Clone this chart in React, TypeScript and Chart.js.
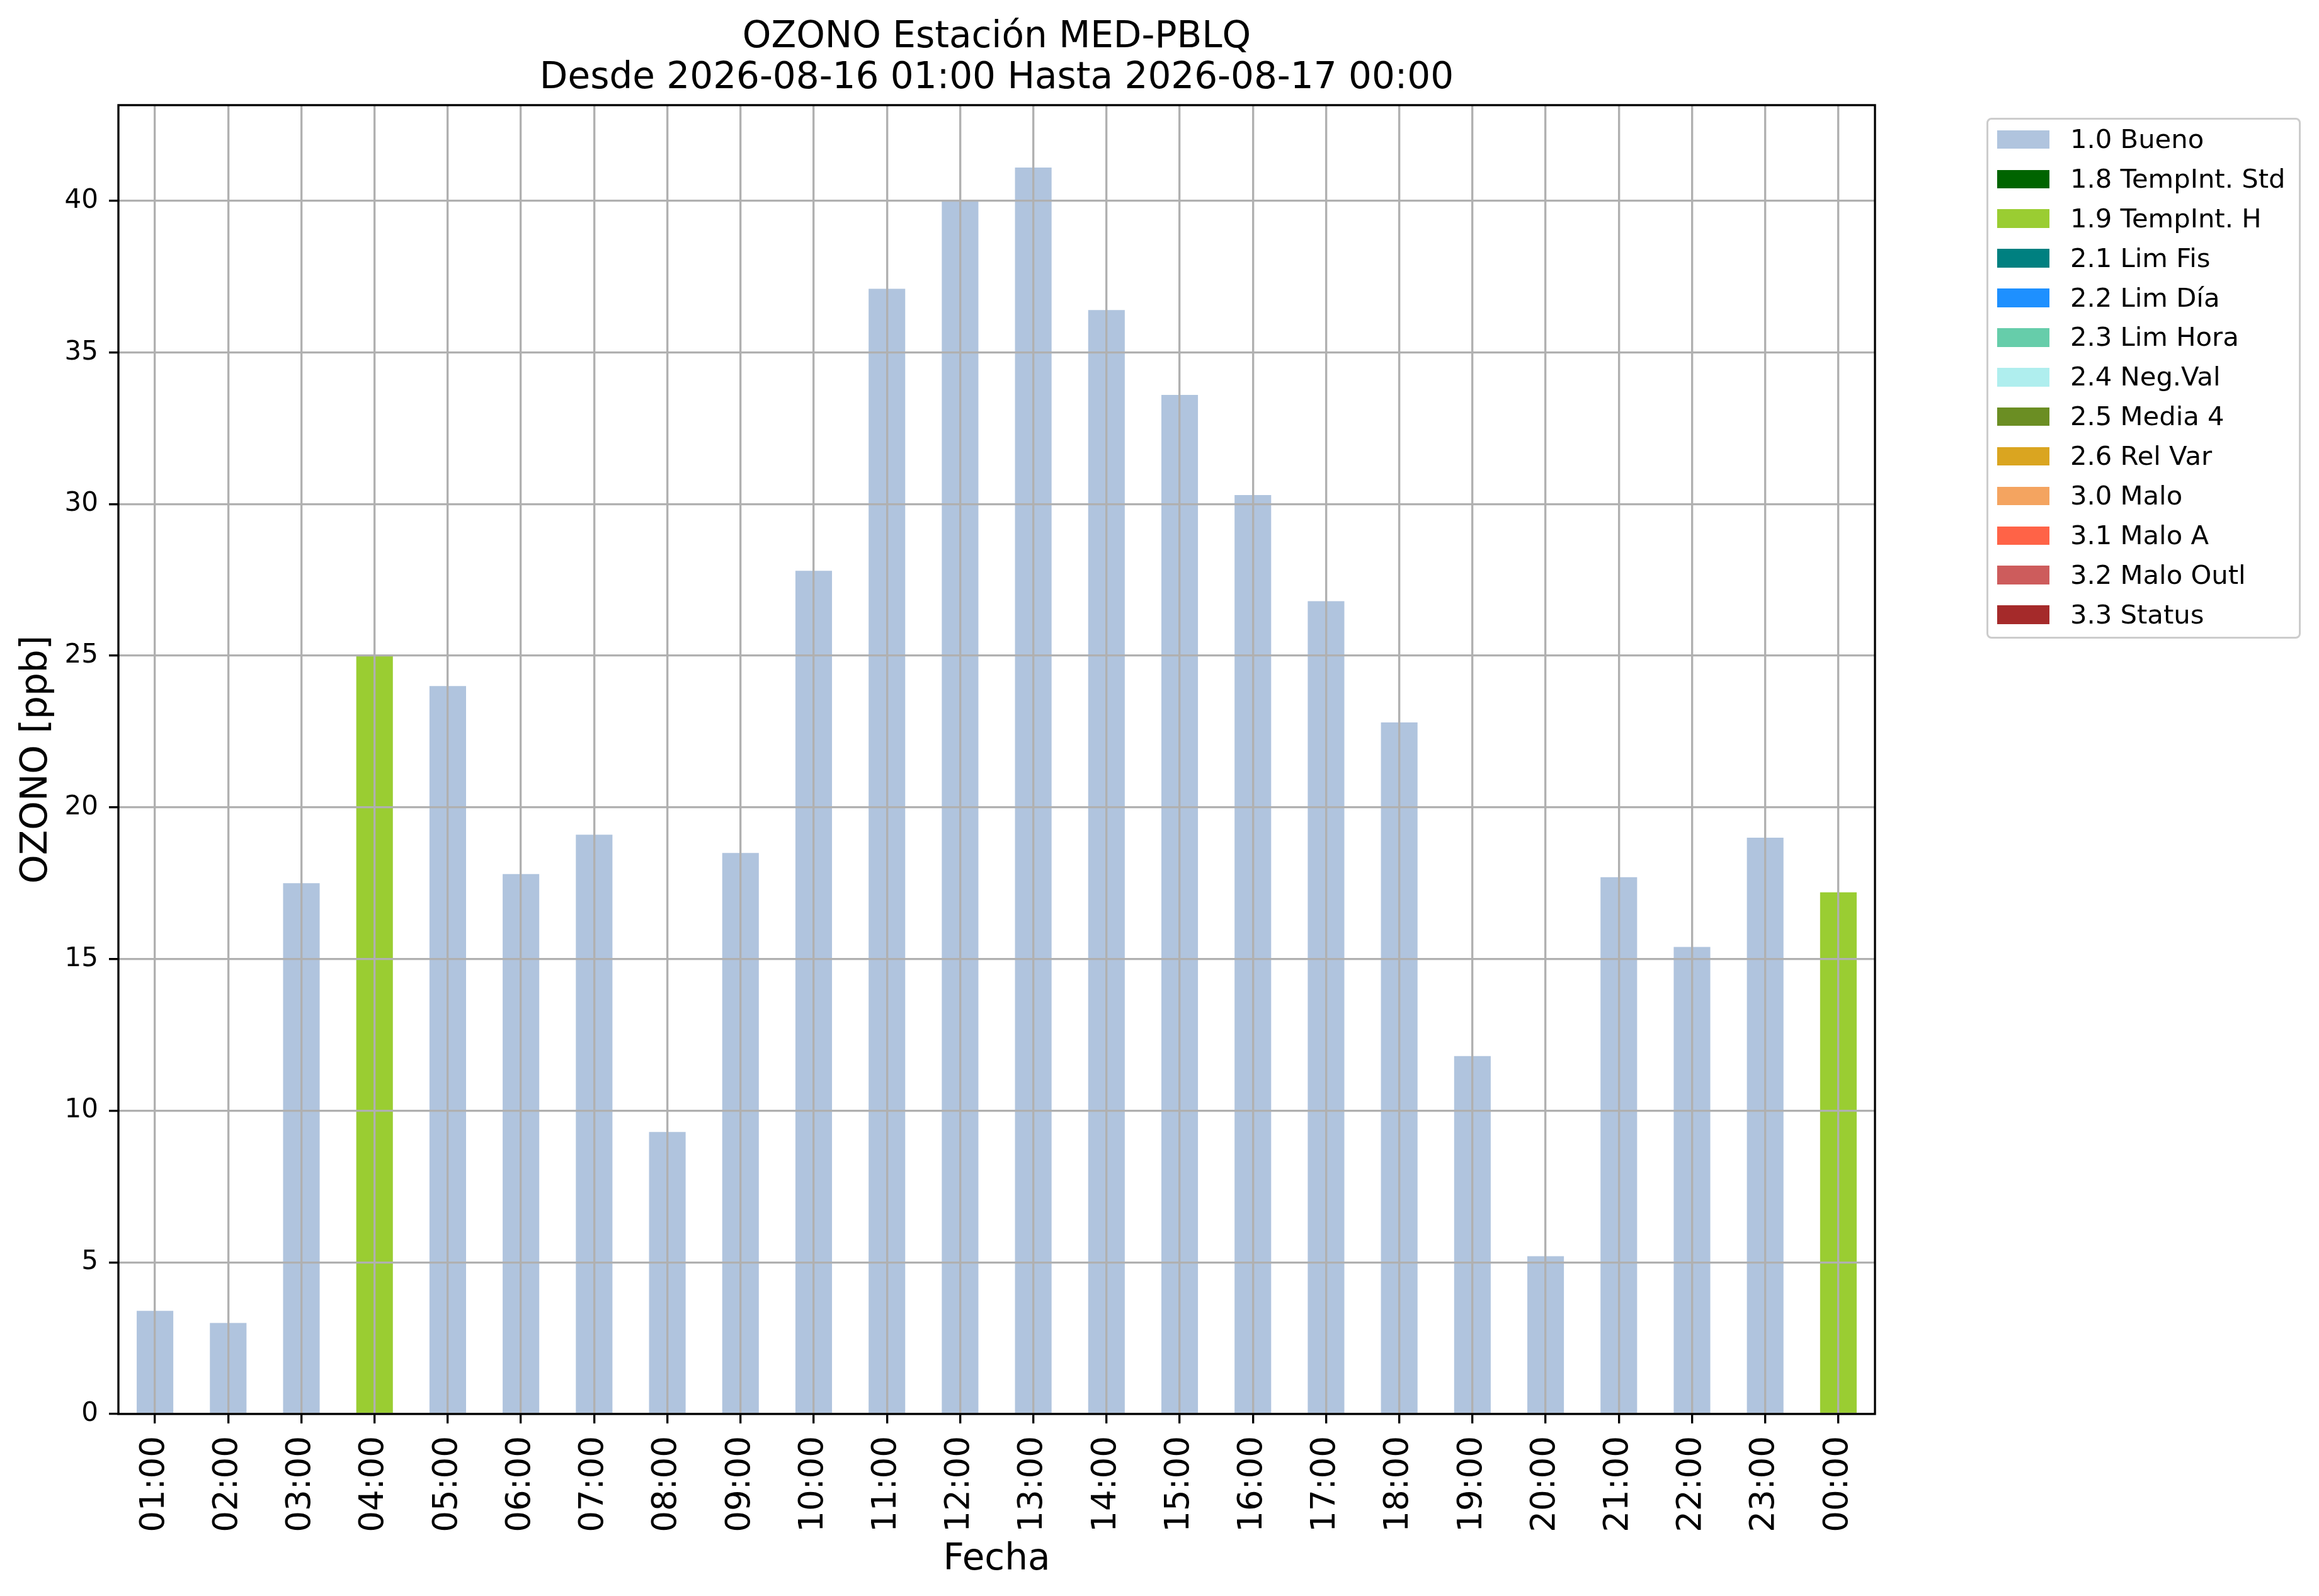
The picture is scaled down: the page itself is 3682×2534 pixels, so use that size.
import { useEffect, useRef, JSX } from 'react';
import { Chart, registerables, ChartConfiguration, Plugin } from 'chart.js';

Chart.register(...registerables);

// hourly labels on the x axis
const categories: string[] = [
    '01:00', '02:00', '03:00', '04:00', '05:00', '06:00', '07:00', '08:00',
    '09:00', '10:00', '11:00', '12:00', '13:00', '14:00', '15:00', '16:00',
    '17:00', '18:00', '19:00', '20:00', '21:00', '22:00', '23:00', '00:00',
];

// ozone values flagged "1.0 Bueno"
const buenoValues: (number | null)[] = [
    3.4, 3.0, 17.5, null, 24.0, 17.8, 19.1, 9.3,
    18.5, 27.8, 37.1, 40.0, 41.1, 36.4, 33.6, 30.3,
    26.8, 22.8, 11.8, 5.2, 17.7, 15.4, 19.0, null,
];

// ozone values flagged "1.9 TempInt. H"
const tempIntHValues: (number | null)[] = [
    null, null, null, 25.0, null, null, null, null,
    null, null, null, null, null, null, null, null,
    null, null, null, null, null, null, null, 17.2,
];

const flagLabels: string[] = [
    '1.0 Bueno', '1.8 TempInt. Std', '1.9 TempInt. H', '2.1 Lim Fis', '2.2 Lim Día',
    '2.3 Lim Hora', '2.4 Neg.Val', '2.5 Media 4', '2.6 Rel Var', '3.0 Malo',
    '3.1 Malo A', '3.2 Malo Outl', '3.3 Status',
];

const flagColors: string[] = [
    '#b0c4de', '#006400', '#9acd32', '#008080', '#1e90ff',
    '#66cdaa', '#afeeee', '#6b8e23', '#daa520', '#f4a460',
    '#ff6347', '#cd5c5c', '#a52a2a',
];

const seriesByFlag: Record<string, (number | null)[]> = {
    '1.0 Bueno': buenoValues,
    '1.9 TempInt. H': tempIntHValues,
};

const titleLines: string[] = ['OZONO Estación MED-PBLQ', 'Desde 2026-08-16 01:00 Hasta 2026-08-17 00:00'];
const yMax = 43.155;

const FONT = 'DejaVu Sans';
const LW = 3.33;

// matplotlib-style frame around the plot area
const spinesPlugin: Plugin = {
    id: 'spines',
    afterDraw(chart) {
        const { ctx, chartArea } = chart;
        ctx.save();
        ctx.strokeStyle = '#000';
        ctx.lineWidth = LW;
        ctx.strokeRect(chartArea.left, chartArea.top, chartArea.right - chartArea.left, chartArea.bottom - chartArea.top);
        ctx.restore();
    },
};

export default function App(): JSX.Element {
    const canvasRef = useRef<HTMLCanvasElement | null>(null);

    useEffect(() => {
        document.body.style.margin = '0';
        document.body.style.overflow = 'hidden';
        if (!canvasRef.current) return;

        const config: ChartConfiguration = {
            type: 'bar',
            data: {
                labels: categories,
                datasets: flagLabels.map((label, i) => ({
                    label,
                    data: seriesByFlag[label] ?? categories.map(() => null),
                    backgroundColor: flagColors[i],
                    borderWidth: 0,
                    barPercentage: 0.5,
                    categoryPercentage: 1,
                })),
            },
            options: {
                responsive: false,
                devicePixelRatio: 1,
                animation: false,
                layout: { padding: { top: 0, left: 0, bottom: 0, right: 705 } },
                plugins: {
                    legend: { display: false },
                    tooltip: { enabled: false },
                    title: {
                        display: true,
                        text: titleLines,
                        fullSize: false,
                        color: '#000',
                        font: { family: FONT, size: 58, weight: 'normal', lineHeight: 1.12 },
                        padding: { top: 27, bottom: 10 },
                    },
                },
                scales: {
                    x: {
                        stacked: true,
                        offset: true,
                        afterFit: (scale: any) => { scale.height = 289; },
                        grid: {
                            offset: false,
                            color: '#b0b0b0',
                            lineWidth: LW,
                            tickLength: 15,
                            tickColor: '#000',
                            tickWidth: LW,
                            z: 1,
                        },
                        border: { display: false },
                        ticks: {
                            autoSkip: false,
                            minRotation: 90,
                            maxRotation: 90,
                            padding: 20,
                            color: '#000',
                            font: { family: FONT, size: 53 },
                        },
                        title: {
                            display: true,
                            text: 'Fecha',
                            color: '#000',
                            font: { family: FONT, size: 58, lineHeight: 1.2 },
                            padding: { top: 0, bottom: 22 },
                        },
                    },
                    y: {
                        stacked: true,
                        min: 0,
                        max: yMax,
                        afterFit: (scale: any) => { scale.width = 188; },
                        grid: {
                            color: '#b0b0b0',
                            lineWidth: LW,
                            tickLength: 15,
                            tickColor: '#000',
                            tickWidth: LW,
                            z: 1,
                        },
                        border: { display: false },
                        ticks: {
                            stepSize: 5,
                            includeBounds: false,
                            padding: 17,
                            color: '#000',
                            font: { family: FONT, size: 42 },
                        },
                        title: {
                            display: true,
                            text: 'OZONO [ppb]',
                            color: '#000',
                            font: { family: FONT, size: 58, lineHeight: 1.2 },
                            padding: { top: 24, bottom: 0 },
                        },
                    },
                },
            },
            plugins: [spinesPlugin],
        };

        const chart = new Chart(canvasRef.current, config);
        return () => chart.destroy();
    }, []);

    return (
        <div style={{ position: 'absolute', left: 0, top: 0, width: 3682, height: 2534, background: '#fff' }}>
            <canvas ref={canvasRef} width={3682} height={2534} style={{ display: 'block', width: 3682, height: 2534 }} />
            <div
                style={{
                    position: 'absolute',
                    left: 3154,
                    top: 187,
                    width: 499,
                    height: 827,
                    boxSizing: 'border-box',
                    border: '3px solid #cccccc',
                    borderRadius: 8,
                    background: 'rgba(255,255,255,0.8)',
                    fontFamily: FONT,
                    fontSize: 41.7,
                    color: '#000',
                }}
            >
                {flagLabels.map((label, i) => (
                    <div key={label} style={{ display: 'flex', alignItems: 'center', height: 62.9, whiteSpace: 'nowrap' }}>
                        <span style={{ display: 'inline-block', marginLeft: 13.5, width: 83.5, height: 29.5, background: flagColors[i] }} />
                        <span style={{ marginLeft: 33, lineHeight: '62.9px' }}>{label}</span>
                    </div>
                ))}
            </div>
        </div>
    );
}
